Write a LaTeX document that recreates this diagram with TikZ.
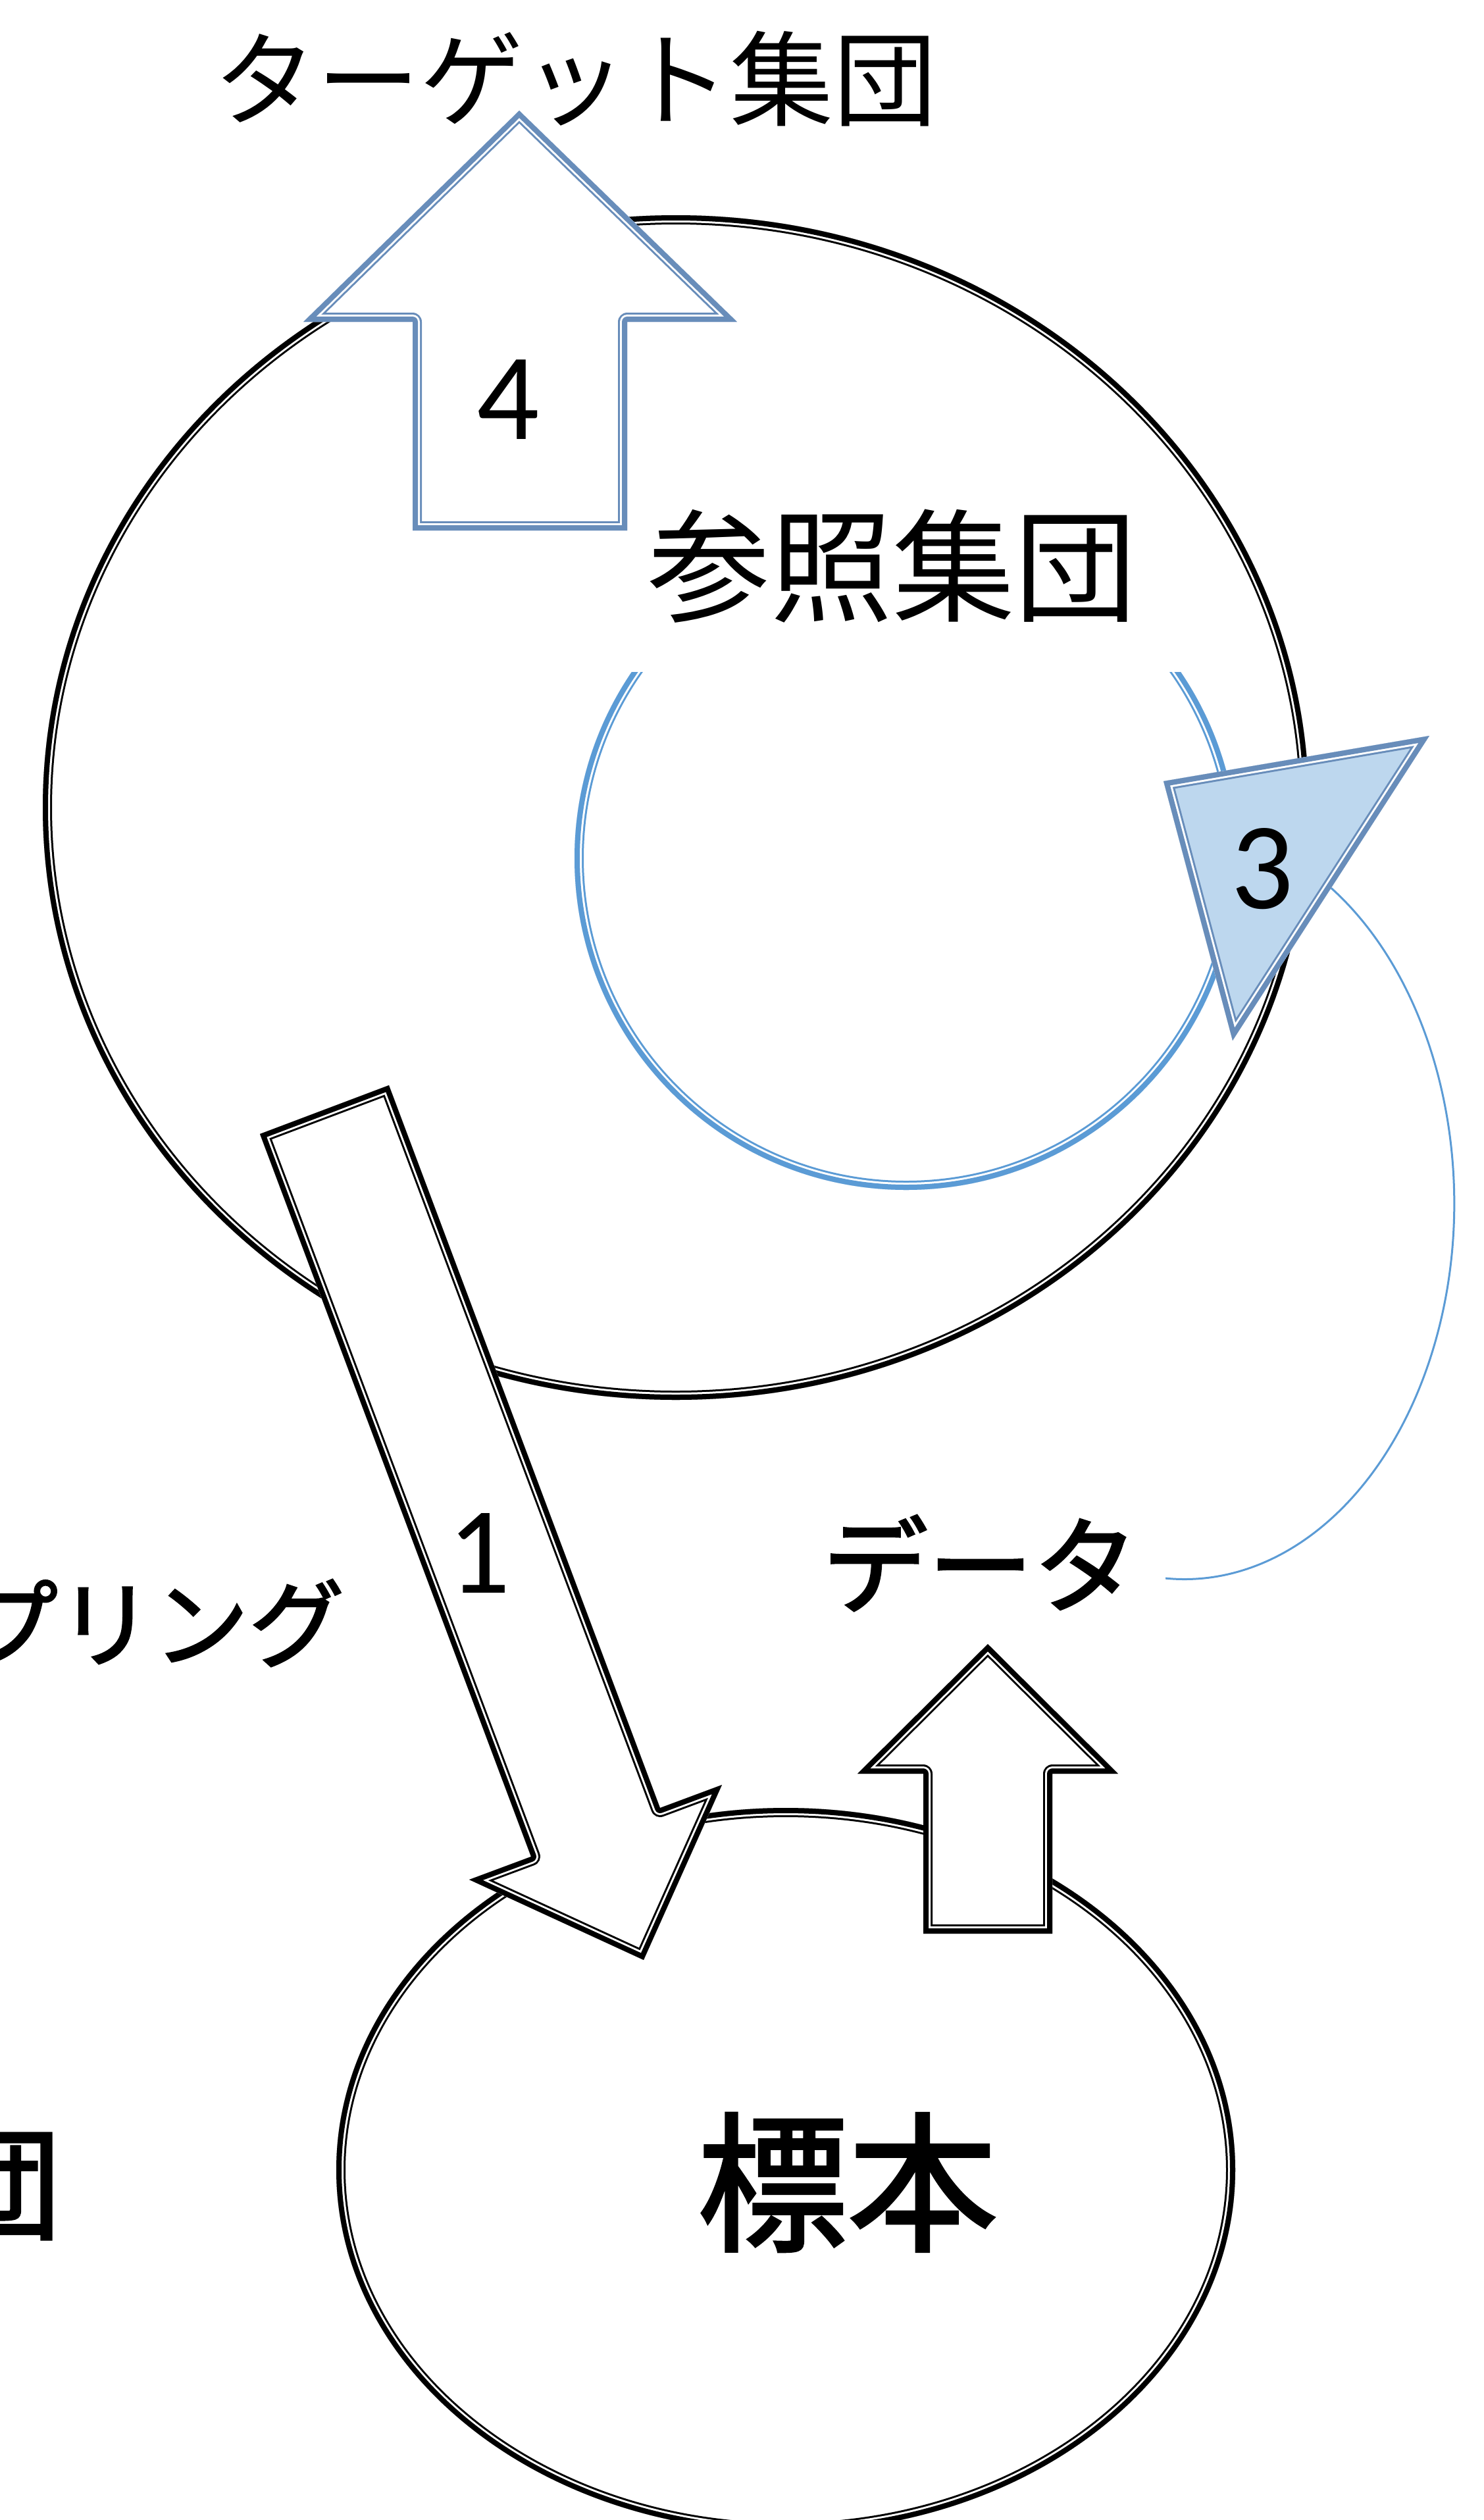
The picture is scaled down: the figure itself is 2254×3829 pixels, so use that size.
\documentclass[tikz,border=0pt]{standalone}
\usepackage{fontspec}
\setmainfont{Carlito}
\newfontfamily\jpfont{Noto Sans CJK JP}
\newfontfamily\jpheavy[FakeBold=2]{Noto Sans CJK JP}
\definecolor{arcblue}{HTML}{5B9BD5}
\definecolor{steel}{RGB}{104,141,186}
\definecolor{trifill}{HTML}{BDD7EE}
% thick-thin compound outline, drawn inside the shape
\newcommand\compo[4]{%
  \begin{scope}
    \clip #1;
    \path[#2] #1;
    \draw[#3, line width=2.8mm, line join=round] #1;
    \draw[#4, line width=2.2mm, line join=round] #1;
    \draw[#3, line width=1.6mm, line join=round] #1;
  \end{scope}}
\begin{document}
\begin{tikzpicture}[x=0.1mm,y=-0.1mm,
  lbl/.style={inner sep=0pt},
  jptext/.style={lbl,font=\jpfont},
  jpbold/.style={lbl,font=\jpheavy},
  numtext/.style={lbl,font=\fontsize{53.5}{60}\selectfont}]
\useasboundingbox (0,0) rectangle (2254,3829);

% reference population
\compo{(1027,1227) ellipse [x radius=96.2mm, y radius=90mm]}{fill=white}{black}{white}

% circular arrow (ring)
\begin{scope}
  \clip (0,1021) rectangle (2254,3829);
  \compo{(1377,1304) circle [radius=50.4mm]}{fill=none}{arcblue}{white}
\end{scope}

% thin curve from arrowhead 3 to data
\coordinate (cstart) at (1973,1311);
\draw[arcblue, line width=0.3mm] (cstart) arc[start angle=65, end angle=-94, x radius=41mm, y radius=57.1mm] coordinate (cend);

% arrowhead 3
\compo{(1768,1187) -- (2172,1118) -- (1873,1581) -- cycle}{fill=trifill}{steel}{white}

% arrow 4
\compo{(789,168) -- (1120,489) -- (953,489) -- (953,806) -- (627,806) -- (627,489) -- (461,489) -- cycle}{fill=white}{steel}{white}

% sample ellipse
\compo{(1194,3297) ellipse [x radius=68.3mm, y radius=55mm]}{fill=white}{black}{white}

% arrow 1
\compo{(395,1723) -- (591,1649) -- (1003,2747) -- (1097,2712) -- (978,2978) -- (713,2856) -- (807,2821) -- cycle}{fill=white}{black}{white}

% arrow to data
\compo{(1501,2498) -- (1699,2695) -- (1599,2695) -- (1599,2938) -- (1403,2938) -- (1403,2695) -- (1303,2695) -- cycle}{fill=white}{black}{white}

% texts
\node[jptext] (target) at (874,120) {\fontsize{44.7}{50}\selectfont ターゲット集団};
\node[jptext] (ref) at (1356,860) {\fontsize{52.9}{60}\selectfont 参照集団};
\node[jpbold] (data) at (1490,2375) {\fontsize{45.5}{50}\selectfont データ};
\node[jpbold, anchor=east] (samp) at (524,2466) {\fontsize{41.3}{46}\selectfont プリング};
\node[jpbold, anchor=east] (pop) at (93,3322) {\fontsize{52.6}{60}\selectfont 団};
\node[jpbold] (sample) at (1288,3316) {\fontsize{64.9}{70}\selectfont 標本};
\node[numtext] (n1) at (728,2360) {1};
\node[numtext] (n3) at (1918,1320) {3};
\node[numtext] (n4) at (772,607) {4};
\end{tikzpicture}
\end{document}
